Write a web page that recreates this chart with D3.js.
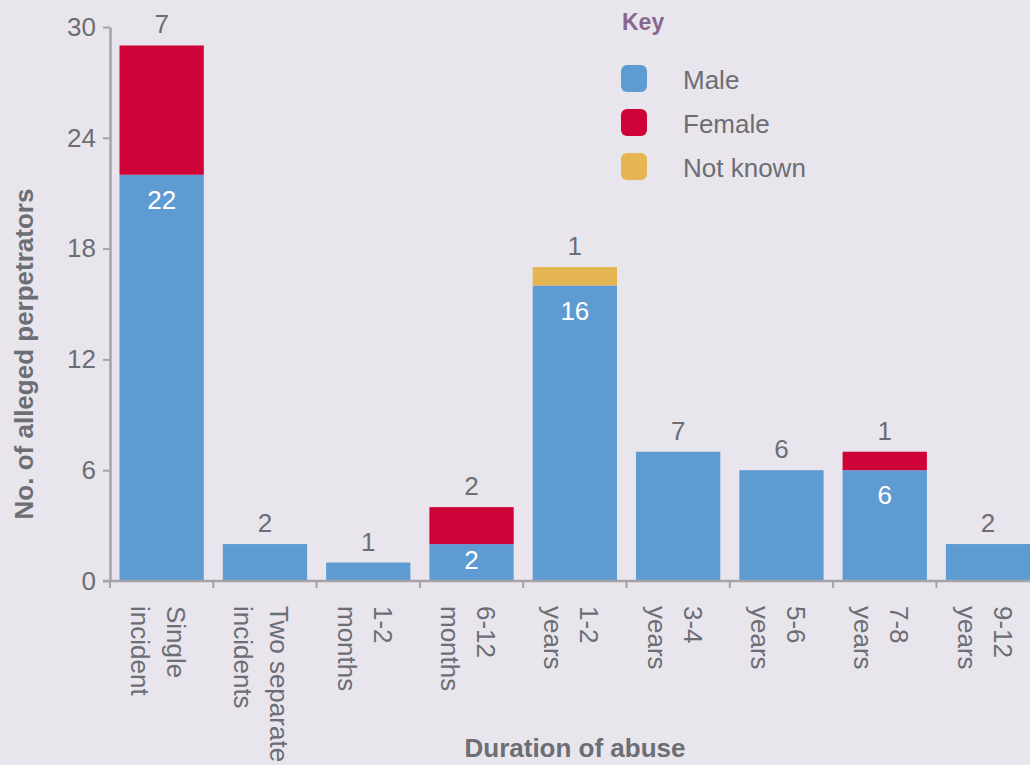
<!DOCTYPE html>
<html>
<head>
<meta charset="utf-8">
<script src="https://d3js.org/d3.v7.min.js"></script>
<style>
  html, body { margin: 0; padding: 0; background: #e9e5ec; }
  svg { display: block; font-family: "Liberation Sans", Arial, Helvetica, sans-serif; }
  .axis-title { font-weight: bold; font-size: 26px; fill: #6b6e74; }
</style>
</head>
<body>
<script>
// chart data
var categories = ["Single incident", "Two separate incidents", "1-2 months", "6-12 months",
  "1-2 years", "3-4 years", "5-6 years", "7-8 years", "9-12 years"];
var male = [22, 2, 1, 2, 16, 7, 6, 6, 2];
var female = [7, 0, 0, 2, 0, 0, 0, 1, 0];
var notKnown = [0, 0, 0, 0, 1, 0, 0, 0, 0];
var yTicks = [0, 6, 12, 18, 24, 30];
var seriesNames = ["Male", "Female", "Not known"];

var colors = { "Male": "#5f9bd3", "Female": "#cf0237", "Not known": "#e4b550" };
var textGrey = "#6b6e74";
var axisGrey = "#a5a3a8";

// svg dimensions
var svgWidth = 1030;
var svgHeight = 765;

var svg = d3.select("body")
  .append("svg")
  .attr("width", svgWidth)
  .attr("height", svgHeight);

// build table for the stack
var rows = categories.map(function(c, i) {
  return { category: c, "Male": male[i], "Female": female[i], "Not known": notKnown[i] };
});
var stacked = d3.stack().keys(seriesNames)(rows);

// scales
var x = d3.scaleBand()
  .domain(categories)
  .range([110, 1039.7])
  .padding(0);

var y = d3.scaleLinear()
  .domain([0, 30])
  .range([581, 27]);

var barInset = 9.5;

// bars
svg.append("g")
  .selectAll("g")
  .data(stacked)
  .enter()
  .append("g")
  .attr("fill", function(s) { return colors[s.key]; })
  .selectAll("rect")
  .data(function(s) { return s.filter(function(d) { return d[1] > d[0]; }); })
  .enter()
  .append("rect")
  .attr("x", function(d) { return x(d.data.category) + barInset; })
  .attr("width", x.bandwidth() - 2 * barInset)
  .attr("y", function(d) { return y(d[1]); })
  .attr("height", function(d) { return y(d[0]) - y(d[1]); });

// value labels
rows.forEach(function(r) {
  var cx = x(r.category) + x.bandwidth() / 2;
  var present = seriesNames.filter(function(k) { return r[k] > 0; });
  var total = d3.sum(present, function(k) { return r[k]; });
  var topKey = present[present.length - 1];

  // label above the bar shows the top segment
  svg.append("text")
    .attr("x", cx)
    .attr("y", y(total) - 12)
    .attr("text-anchor", "middle")
    .attr("font-size", 26)
    .attr("fill", textGrey)
    .text(r[topKey]);

  // white label inside the male segment when stacked
  if (present.length > 1) {
    var segTop = y(r["Male"]);
    var segH = y(0) - segTop;
    svg.append("text")
      .attr("x", cx)
      .attr("y", segTop + Math.min(25, segH / 2 - 3))
      .attr("dy", "0.35em")
      .attr("text-anchor", "middle")
      .attr("font-size", 26)
      .attr("fill", "#ffffff")
      .text(r["Male"]);
  }
});

// y axis
var leftAxis = d3.axisLeft(y)
  .tickValues(yTicks)
  .tickSize(7)
  .tickSizeOuter(0)
  .tickPadding(7);

var yAxisG = svg.append("g")
  .attr("transform", "translate(110,0)")
  .call(leftAxis);
yAxisG.select(".domain").attr("stroke", axisGrey).attr("stroke-width", 2.5);
yAxisG.selectAll(".tick line").attr("stroke", axisGrey).attr("stroke-width", 2);
yAxisG.selectAll(".tick text")
  .attr("font-size", 26)
  .attr("font-family", null)
  .attr("fill", textGrey);

// x axis baseline
svg.append("line")
  .attr("x1", 103)
  .attr("x2", svgWidth)
  .attr("y1", y(0))
  .attr("y2", y(0))
  .attr("stroke", axisGrey)
  .attr("stroke-width", 2.5);

// x ticks at the category boundaries
svg.append("g")
  .selectAll("line")
  .data(categories)
  .enter()
  .append("line")
  .attr("x1", function(d) { return x(d); })
  .attr("x2", function(d) { return x(d); })
  .attr("y1", y(0))
  .attr("y2", y(0) + 7)
  .attr("stroke", axisGrey)
  .attr("stroke-width", 2);

// category labels, rotated, two lines each
var catLabels = svg.append("g")
  .selectAll("text")
  .data(categories)
  .enter()
  .append("text")
  .attr("transform", function(d) {
    return "translate(" + (x(d) + x.bandwidth() / 2 + 6) + ",606) rotate(90)";
  })
  .attr("font-size", 26)
  .attr("fill", textGrey);

catLabels.each(function(d) {
  var cut = d.lastIndexOf(" ");
  var lines = [d.slice(0, cut), d.slice(cut + 1)];
  var t = d3.select(this);
  lines.forEach(function(line, i) {
    t.append("tspan")
      .attr("x", 0)
      .attr("y", i * 36)
      .attr("dominant-baseline", "hanging")
      .attr("dy", "-0.72em")
      .text(line);
  });
});

// axis titles
svg.append("text")
  .attr("class", "axis-title")
  .attr("transform", "translate(33,354) rotate(-90)")
  .attr("text-anchor", "middle")
  .text("No. of alleged perpetrators");

svg.append("text")
  .attr("class", "axis-title")
  .attr("x", 575)
  .attr("y", 757)
  .attr("text-anchor", "middle")
  .text("Duration of abuse");

// legend
var legend = svg.append("g").attr("transform", "translate(621,0)");

legend.append("text")
  .attr("x", 1)
  .attr("y", 30)
  .attr("font-size", 23)
  .attr("font-weight", "bold")
  .attr("fill", "#87668f")
  .text("Key");

var legendItems = legend.selectAll(".legend-item")
  .data(seriesNames)
  .enter()
  .append("g")
  .attr("class", "legend-item")
  .attr("transform", function(d, i) { return "translate(0," + (65 + i * 44) + ")"; });

legendItems.append("rect")
  .attr("width", 26)
  .attr("height", 27)
  .attr("rx", 6)
  .attr("fill", function(d) { return colors[d]; });

legendItems.append("text")
  .attr("x", 62)
  .attr("y", 24)
  .attr("font-size", 26)
  .attr("fill", textGrey)
  .text(function(d) { return d; });
</script>
</body>
</html>
